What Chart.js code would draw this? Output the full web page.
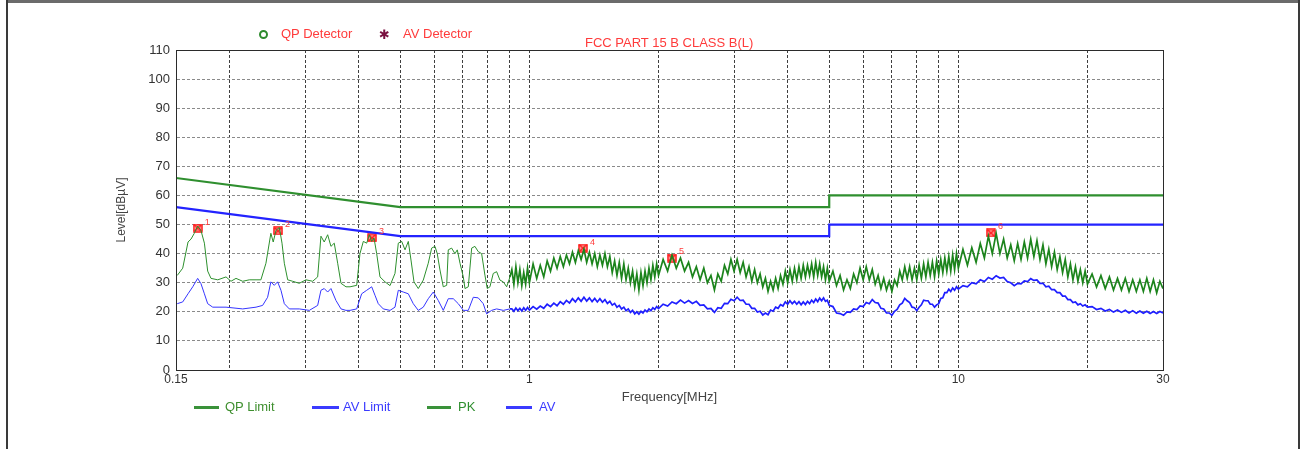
<!DOCTYPE html>
<html>
<head>
<meta charset="utf-8">
<script src="https://cdn.jsdelivr.net/npm/chart.js@4.4.1/dist/chart.umd.min.js"></script>
<style>
  html, body { margin: 0; padding: 0; background: #fff; }
  body { width: 1303px; height: 449px; position: relative; overflow: hidden; font-family: "Liberation Sans", Arial, sans-serif; }
  #chart { position: absolute; left: 0; top: 0; }
  .frame-top { position: absolute; left: 6px; top: 0; width: 1294px; height: 3px; background: #6b6b6b; }
  .frame-left { position: absolute; left: 6px; top: 0; width: 2px; height: 449px; background: #3a3a3a; }
  .frame-right { position: absolute; left: 1298px; top: 0; width: 2px; height: 449px; background: #3a3a3a; }
  .txt { position: absolute; white-space: nowrap; font-size: 13px; line-height: 15px; }
  .red { color: #ff3b3b; }
  .qp-dot { position: absolute; width: 5px; height: 5px; border: 2px solid #2e8b2e; border-radius: 50%; }
  .av-star { position: absolute; font-family: "DejaVu Sans", sans-serif; font-size: 13px; line-height: 13px; color: #7a1040; }
  .leg-line { position: absolute; height: 3px; }
</style>
</head>
<body>
<canvas id="chart" width="1303" height="449"></canvas>
<div class="frame-top"></div>
<div class="frame-left"></div>
<div class="frame-right"></div>

<div class="qp-dot" style="left:259px; top:30px;"></div>
<div class="txt red" style="left:281px; top:26px;">QP Detector</div>
<div class="av-star" style="left:379px; top:28px;">&#10033;</div>
<div class="txt red" style="left:403px; top:26px;">AV Detector</div>
<div class="txt red" style="left:585px; top:35px;">FCC PART 15 B CLASS B(L)</div>

<div class="leg-line" style="left:194px; top:406px; width:25px; background:#3a923a;"></div>
<div class="txt" style="left:225px; top:399px; color:#3f8f2f;">QP Limit</div>
<div class="leg-line" style="left:312px; top:406px; width:27px; background:#3b3bff;"></div>
<div class="txt" style="left:343px; top:399px; color:#3b3bff;">AV Limit</div>
<div class="leg-line" style="left:427px; top:406px; width:24px; background:#3a923a;"></div>
<div class="txt" style="left:458px; top:399px; color:#2f8f2f;">PK</div>
<div class="leg-line" style="left:506px; top:406px; width:26px; background:#3b3bff;"></div>
<div class="txt" style="left:539px; top:399px; color:#3b3bff;">AV</div>

<script>
// limit lines (MHz / dBuV)
const qpLimitFreq = [0.15, 0.5, 5, 5, 30];
const qpLimitLevel = [66, 56, 56, 60, 60];
const avLimitFreq = [0.15, 0.5, 5, 5, 30];
const avLimitLevel = [56, 46, 46, 50, 50];

// low band sweep
const pkLowFreq = [0.151,0.1555,0.160,0.1626,0.1655,0.1685,0.1715,0.1747,0.1778,0.181,
  0.1877,0.1962,0.2015,0.207,0.2146,0.2223,0.2305,0.2366,0.2431,0.2496,
  0.2528,0.2566,0.2612,0.265,0.2683,0.2732,0.2806,0.2907,0.3014,0.3124,
  0.3209,0.3266,0.3324,0.3386,0.3446,0.3508,0.3573,0.3637,0.3736,0.3818,
  0.3957,0.4027,0.41,0.4175,0.4234,0.4289,0.4342,0.4405,0.4484,0.4607,
  0.4732,0.486,0.4947,0.5038,0.5129,0.522,0.5296,0.5382,0.5507,0.5657,
  0.581,0.5917,0.6023,0.6098,0.6187,0.6298,0.6414,0.6469,0.6587,0.6706,
  0.679,0.689,0.7013,0.7076,0.7203,0.7335,0.7464,0.7598,0.7738,0.7876,
  0.7975,0.8091,0.8236,0.8387,0.8537,0.8692,0.8851,0.901];
const pkLowLevel = [32.5,35,44,45,47,49.5,48,43.6,34,31.5,
  31,32,30.5,31.5,30.5,31,31,31,36.7,47,
  44,48,49,43.6,36.7,31,30.5,29.8,31,30.5,
  32,46,44,46.5,42.5,43.6,36.7,29.8,28.6,28.6,
  29.1,40,44.2,43.6,46.5,44.2,45.4,40,32,30.3,
  29,33.2,43.6,44.2,41.3,44.2,37.8,30.3,28,30.9,
  36.7,41.9,42.5,40,34.4,28.6,29.1,41.3,41.9,40,
  41.3,36.7,32,28,28.6,41.9,42.5,40.7,40,32.6,
  28,28.6,33.2,33.8,30.9,30.3,28.6,32];

const avLowFreq = [0.151,0.1555,0.16,0.1641,0.1685,0.1715,0.1747,0.1778,0.1827,0.1962,
  0.2146,0.2305,0.2388,0.2453,0.2496,0.2542,0.2588,0.2635,0.2683,0.2756,
  0.2907,0.3068,0.3209,0.3266,0.3324,0.3386,0.3446,0.354,0.3637,0.3736,
  0.3818,0.3957,0.4064,0.4175,0.4289,0.4365,0.4443,0.4564,0.4732,0.486,
  0.4947,0.5082,0.522,0.5361,0.5507,0.5657,0.581,0.5969,0.6131,0.6298,
  0.6469,0.6646,0.6826,0.7013,0.7203,0.7399,0.7598,0.7806,0.7948,0.8164,
  0.8387,0.8692,0.901];
const avLowLevel = [22.8,23.4,26.2,28.6,31.5,29.7,26.2,22.8,21.6,21.6,
  21,21.6,22.2,25,30.3,29.1,30.3,27.4,22.8,21,
  21,20.5,22.2,27.4,28,26.8,28,23.9,21,20.5,
  20.5,21,26.2,27.4,28.6,25.7,22.8,21,20.5,21.6,
  27.4,26.8,26.2,22.8,20.5,21.6,24.5,26.8,23.9,20.5,
  24.5,24.5,22.8,20.5,20.5,25,24.8,22.8,19.3,20.5,
  21,20.5,21];

// upper sweep, shared frequency points for PK and AV
const sweepFreq = [0.91,0.92,0.93,0.94,0.95,0.96,0.97,0.98,0.99,1.00,
  1.02,1.04,1.06,1.08,1.10,1.12,1.14,1.16,1.18,1.20,
  1.22,1.24,1.26,1.28,1.30,1.32,1.34,1.36,1.38,1.40,
  1.42,1.44,1.46,1.48,1.50,1.52,1.54,1.56,1.58,1.60,
  1.62,1.64,1.66,1.68,1.70,1.72,1.74,1.76,1.78,1.80,
  1.82,1.84,1.86,1.88,1.90,1.92,1.94,1.96,1.98,2.00,
  2.05,2.10,2.15,2.20,2.25,2.30,2.35,2.40,2.45,2.50,
  2.55,2.60,2.65,2.70,2.75,2.80,2.85,2.90,2.95,3.00,
  3.05,3.10,3.15,3.20,3.25,3.30,3.35,3.40,3.45,3.50,
  3.55,3.60,3.65,3.70,3.75,3.80,3.85,3.90,3.95,4.00,
  4.05,4.10,4.15,4.20,4.25,4.30,4.35,4.40,4.45,4.50,
  4.55,4.60,4.65,4.70,4.75,4.80,4.85,4.90,4.95,5.00,
  5.1,5.2,5.3,5.4,5.5,5.6,5.7,5.8,5.9,6.0,
  6.1,6.2,6.3,6.4,6.5,6.6,6.7,6.8,6.9,7.0,
  7.1,7.2,7.3,7.4,7.5,7.6,7.7,7.8,7.9,8.0,
  8.1,8.2,8.3,8.4,8.5,8.6,8.7,8.8,8.9,9.0,
  9.1,9.2,9.3,9.4,9.5,9.6,9.7,9.8,9.9,10.0,
  10.25,10.5,10.75,11,11.25,11.5,11.75,12,12.25,12.5,
  12.75,13,13.25,13.5,13.75,14,14.25,14.5,14.75,15,
  15.25,15.5,15.75,16,16.25,16.5,16.75,17,17.25,17.5,
  17.75,18,18.25,18.5,18.75,19,19.25,19.5,19.75,20,
  20.5,21,21.5,22,22.5,23,23.5,24,24.5,25,
  25.5,26,26.5,27,27.5,28,28.5,29,29.5,30];
const pkSweepLevel = [34.5,29.5,35.5,30,34.5,29,33.5,29.5,35,30,
  36.5,31.5,36,32,37.5,34,38.5,35,39,35.5,
  39.5,36.5,40.5,37,41,38,41.5,37,40.5,36.5,
  40,35.5,39.5,36,40,35.5,39,33.5,37.5,32.5,
  37,31.5,36.5,31,35,30,34,28.5,33,27.5,
  33.5,29,34,30,35,31,36,32,36.5,32.5,
  38,34,39.5,35,38.5,34,37,32,35.5,31,
  35,30,32.5,27.5,33,30.5,36,33,38,34,
  38,33.5,37,32,35.5,30.5,34.5,30,33,28.5,
  31.5,27,30.5,27.5,31.5,28,32.5,29.5,34,30,
  34.5,30.5,35,31,35.5,31.5,36,32,36,32.5,
  36.5,32,37,32.5,36.5,32,35.5,31,35,30.5,
  34,29,32.5,27.5,31,28,33,30,35,31,
  35.5,31,34.5,29.5,32.5,28,31.5,27.5,30.5,27,
  31,29,34,31,35.5,31.5,35.5,31,35,31,
  36,31.5,36.5,32,37,32.5,37,32,37.5,33,
  38,33.5,38.5,34,39,34,39.5,34.5,40,35,
  41.5,36,42,37,43.5,38.5,46,40,47,40,
  45,38.5,43,37.5,43.5,38,44,38.5,45,39,
  44.5,38,43,36.5,41.5,35.5,40.5,34.5,39,33.5,
  38,32,36.5,31,35.5,30.5,34.5,30,34,29.5,
  33,28.5,32.5,28,32,27.5,31.5,27.5,31.5,27,
  31,27,31,27,31.5,27,31,26.5,30.5,28];
const avSweepLevel = [21,20.2,21.3,20.4,21.2,20.3,21.4,20.5,21.5,20.6,
  21.8,20.9,22,21.2,22.6,21.8,23,22.1,23.5,22.6,
  23.9,23,24.5,23.4,24.8,23.6,25,23.7,24.8,23.5,
  24.6,23.4,24.5,23.3,24.2,22.9,23.6,22.3,22.9,21.6,
  22.2,21,21.6,20.4,21,19.8,20.5,19.3,20,19.2,
  20.2,19.6,20.6,20,21,20.4,21.4,20.8,21.8,21.1,
  22.6,22,23.4,22.8,24,23,23.9,22.9,23.6,22.2,
  22.4,21,21.2,19.8,21.4,21.2,22.9,22.8,24.3,23.8,
  25,23.9,24,22.6,22.6,21.2,21.2,19.9,20.2,18.9,
  19.6,19,20.6,20.2,21.6,21.2,22.5,22,23.4,22.6,
  23.8,22.8,23.6,22.6,23.5,22.4,23.4,22.5,23.6,22.8,
  24,23.2,24.4,23.5,24.7,23.8,24.8,23.6,24,22.2,
  21.8,19.6,19.4,18.8,20,19.8,21,20.8,22,21.8,
  23.2,22.8,24.2,23.2,23,21.2,21,19.6,19.6,18.8,
  20.2,20.8,22.4,23,24.6,23.8,23.2,21.6,21.4,20.4,
  21.6,22.4,24,23.8,23.8,22.6,22.6,21.6,22.4,22.8,
  24.6,24.8,26.6,26.6,27.8,27,28.2,27.4,28.6,27.8,
  29,28.6,30,29.6,31,30.4,31.8,31.2,32.4,31.6,
  31.8,30.4,30,29,29.8,29.6,30.6,30.4,31.4,30.8,
  31,29.8,29.8,28.6,28.8,27.6,27.6,26.6,26.6,25.4,
  25.4,24.2,24.2,23.2,23.4,22.4,22.8,22,22.4,21.6,
  21.8,20.8,21.2,20.3,20.8,19.9,20.6,19.8,20.5,19.6,
  20.4,19.5,20.3,19.5,20.2,19.4,20.1,19.4,20.1,19.6];

// numbered final-measurement markers
const markerNo = ['1', '2', '3', '4', '5', '6'];
const markerFreq = [0.1685, 0.2594, 0.4295, 1.333, 2.149, 11.91];
const markerLevel = [48.8, 47.8, 45.4, 41.9, 38.5, 47.1];

// axis ticks
const xGridValues = [0.15,0.2,0.3,0.4,0.5,0.6,0.7,0.8,0.9,1,2,3,4,5,6,7,8,9,10,20,30];
const xLabelValues = [0.15, 1, 10, 30];

const toPoints = (xs, ys) => xs.map((x, i) => ({ x: x, y: ys[i] }));

const pkLowPoints = toPoints(pkLowFreq, pkLowLevel);
const avLowPoints = toPoints(avLowFreq, avLowLevel);
// sweep part starts from the last low-band point so the trace stays joined
const pkSweepPoints = [pkLowPoints[pkLowPoints.length - 1]].concat(toPoints(sweepFreq, pkSweepLevel));
const avSweepPoints = [avLowPoints[avLowPoints.length - 1]].concat(toPoints(sweepFreq, avSweepLevel));

// marker glyph: red box with a cross
const markIcon = document.createElement('canvas');
markIcon.width = 10;
markIcon.height = 9;
(function () {
    const c = markIcon.getContext('2d');
    c.fillStyle = 'rgba(255,80,80,0.55)';
    c.fillRect(0.5, 0.5, 9, 8);
    c.strokeStyle = '#ff1a1a';
    c.lineWidth = 1.4;
    c.strokeRect(1, 1, 8, 7);
    c.beginPath();
    c.moveTo(1, 1); c.lineTo(9, 8);
    c.moveTo(9, 1); c.lineTo(1, 8);
    c.stroke();
})();

const frameAndLabels = {
    id: 'frameAndLabels',
    afterDraw(chart) {
        const ctx = chart.ctx;
        const a = chart.chartArea;
        ctx.save();
        ctx.strokeStyle = '#2b2b2b';
        ctx.lineWidth = 1;
        ctx.strokeRect(Math.round(a.left) + 0.5, Math.round(a.top) + 0.5,
            Math.round(a.right - a.left), Math.round(a.bottom - a.top));
        const idx = chart.data.datasets.findIndex(d => d.label === 'Markers');
        const meta = chart.getDatasetMeta(idx);
        ctx.fillStyle = '#ff3b3b';
        ctx.font = '9px "Liberation Sans", Arial, sans-serif';
        ctx.textBaseline = 'middle';
        meta.data.forEach((pt, i) => {
            ctx.fillText(markerNo[i], pt.x + 7, pt.y - 6);
        });
        ctx.restore();
    }
};

const font = (size) => ({ family: '"Liberation Sans", Arial, sans-serif', size: size });

new Chart(document.getElementById('chart'), {
    type: 'line',
    data: {
        datasets: [
            { label: 'PK', data: pkLowPoints, borderColor: '#2d902d', borderWidth: 1, pointRadius: 0 },
            { label: 'PK sweep', data: pkSweepPoints, borderColor: '#1c841c', borderWidth: 1.7, pointRadius: 0 },
            { label: 'AV', data: avLowPoints, borderColor: '#3535ff', borderWidth: 1, pointRadius: 0 },
            { label: 'AV sweep', data: avSweepPoints, borderColor: '#1f1fff', borderWidth: 1.7, pointRadius: 0 },
            { label: 'QP Limit', data: toPoints(qpLimitFreq, qpLimitLevel), borderColor: '#2f8f2f', borderWidth: 2.2, pointRadius: 0 },
            { label: 'AV Limit', data: toPoints(avLimitFreq, avLimitLevel), borderColor: '#2323ff', borderWidth: 2.2, pointRadius: 0 },
            {
                label: 'Markers',
                data: toPoints(markerFreq, markerLevel),
                showLine: false,
                pointStyle: markIcon,
                pointRadius: 5
            }
        ]
    },
    options: {
        responsive: false,
        animation: false,
        devicePixelRatio: 1,
        layout: { padding: { left: 110, right: 140, top: 50, bottom: 40 } },
        plugins: {
            legend: { display: false },
            tooltip: { enabled: false }
        },
        scales: {
            x: {
                type: 'logarithmic',
                min: 0.15,
                max: 30,
                afterBuildTicks(scale) {
                    scale.ticks = xGridValues.map(v => ({ value: v }));
                },
                afterFit(scale) { scale.height = 39; },
                ticks: {
                    autoSkip: false,
                    maxRotation: 0,
                    minRotation: 0,
                    padding: 2,
                    color: '#333',
                    font: font(12),
                    callback: (v) => xLabelValues.includes(v) ? String(v) : ''
                },
                grid: { color: '#3f3f3f', drawTicks: false, lineWidth: 1 },
                border: { display: true, color: '#2b2b2b', dash: [3, 2] },
                title: { display: true, text: 'Frequency[MHz]', color: '#444', font: font(13) }
            },
            y: {
                min: 0,
                max: 110,
                afterFit(scale) { scale.width = 66; },
                ticks: { stepSize: 10, padding: 6, color: '#333', font: font(13) },
                grid: { color: '#8a8a8a', drawTicks: false, lineWidth: 1 },
                border: { display: true, color: '#2b2b2b', dash: [3, 2] },
                title: { display: true, text: 'Level[dBµV]', color: '#444', font: font(12) }
            }
        }
    },
    plugins: [frameAndLabels]
});
</script>
</body>
</html>
